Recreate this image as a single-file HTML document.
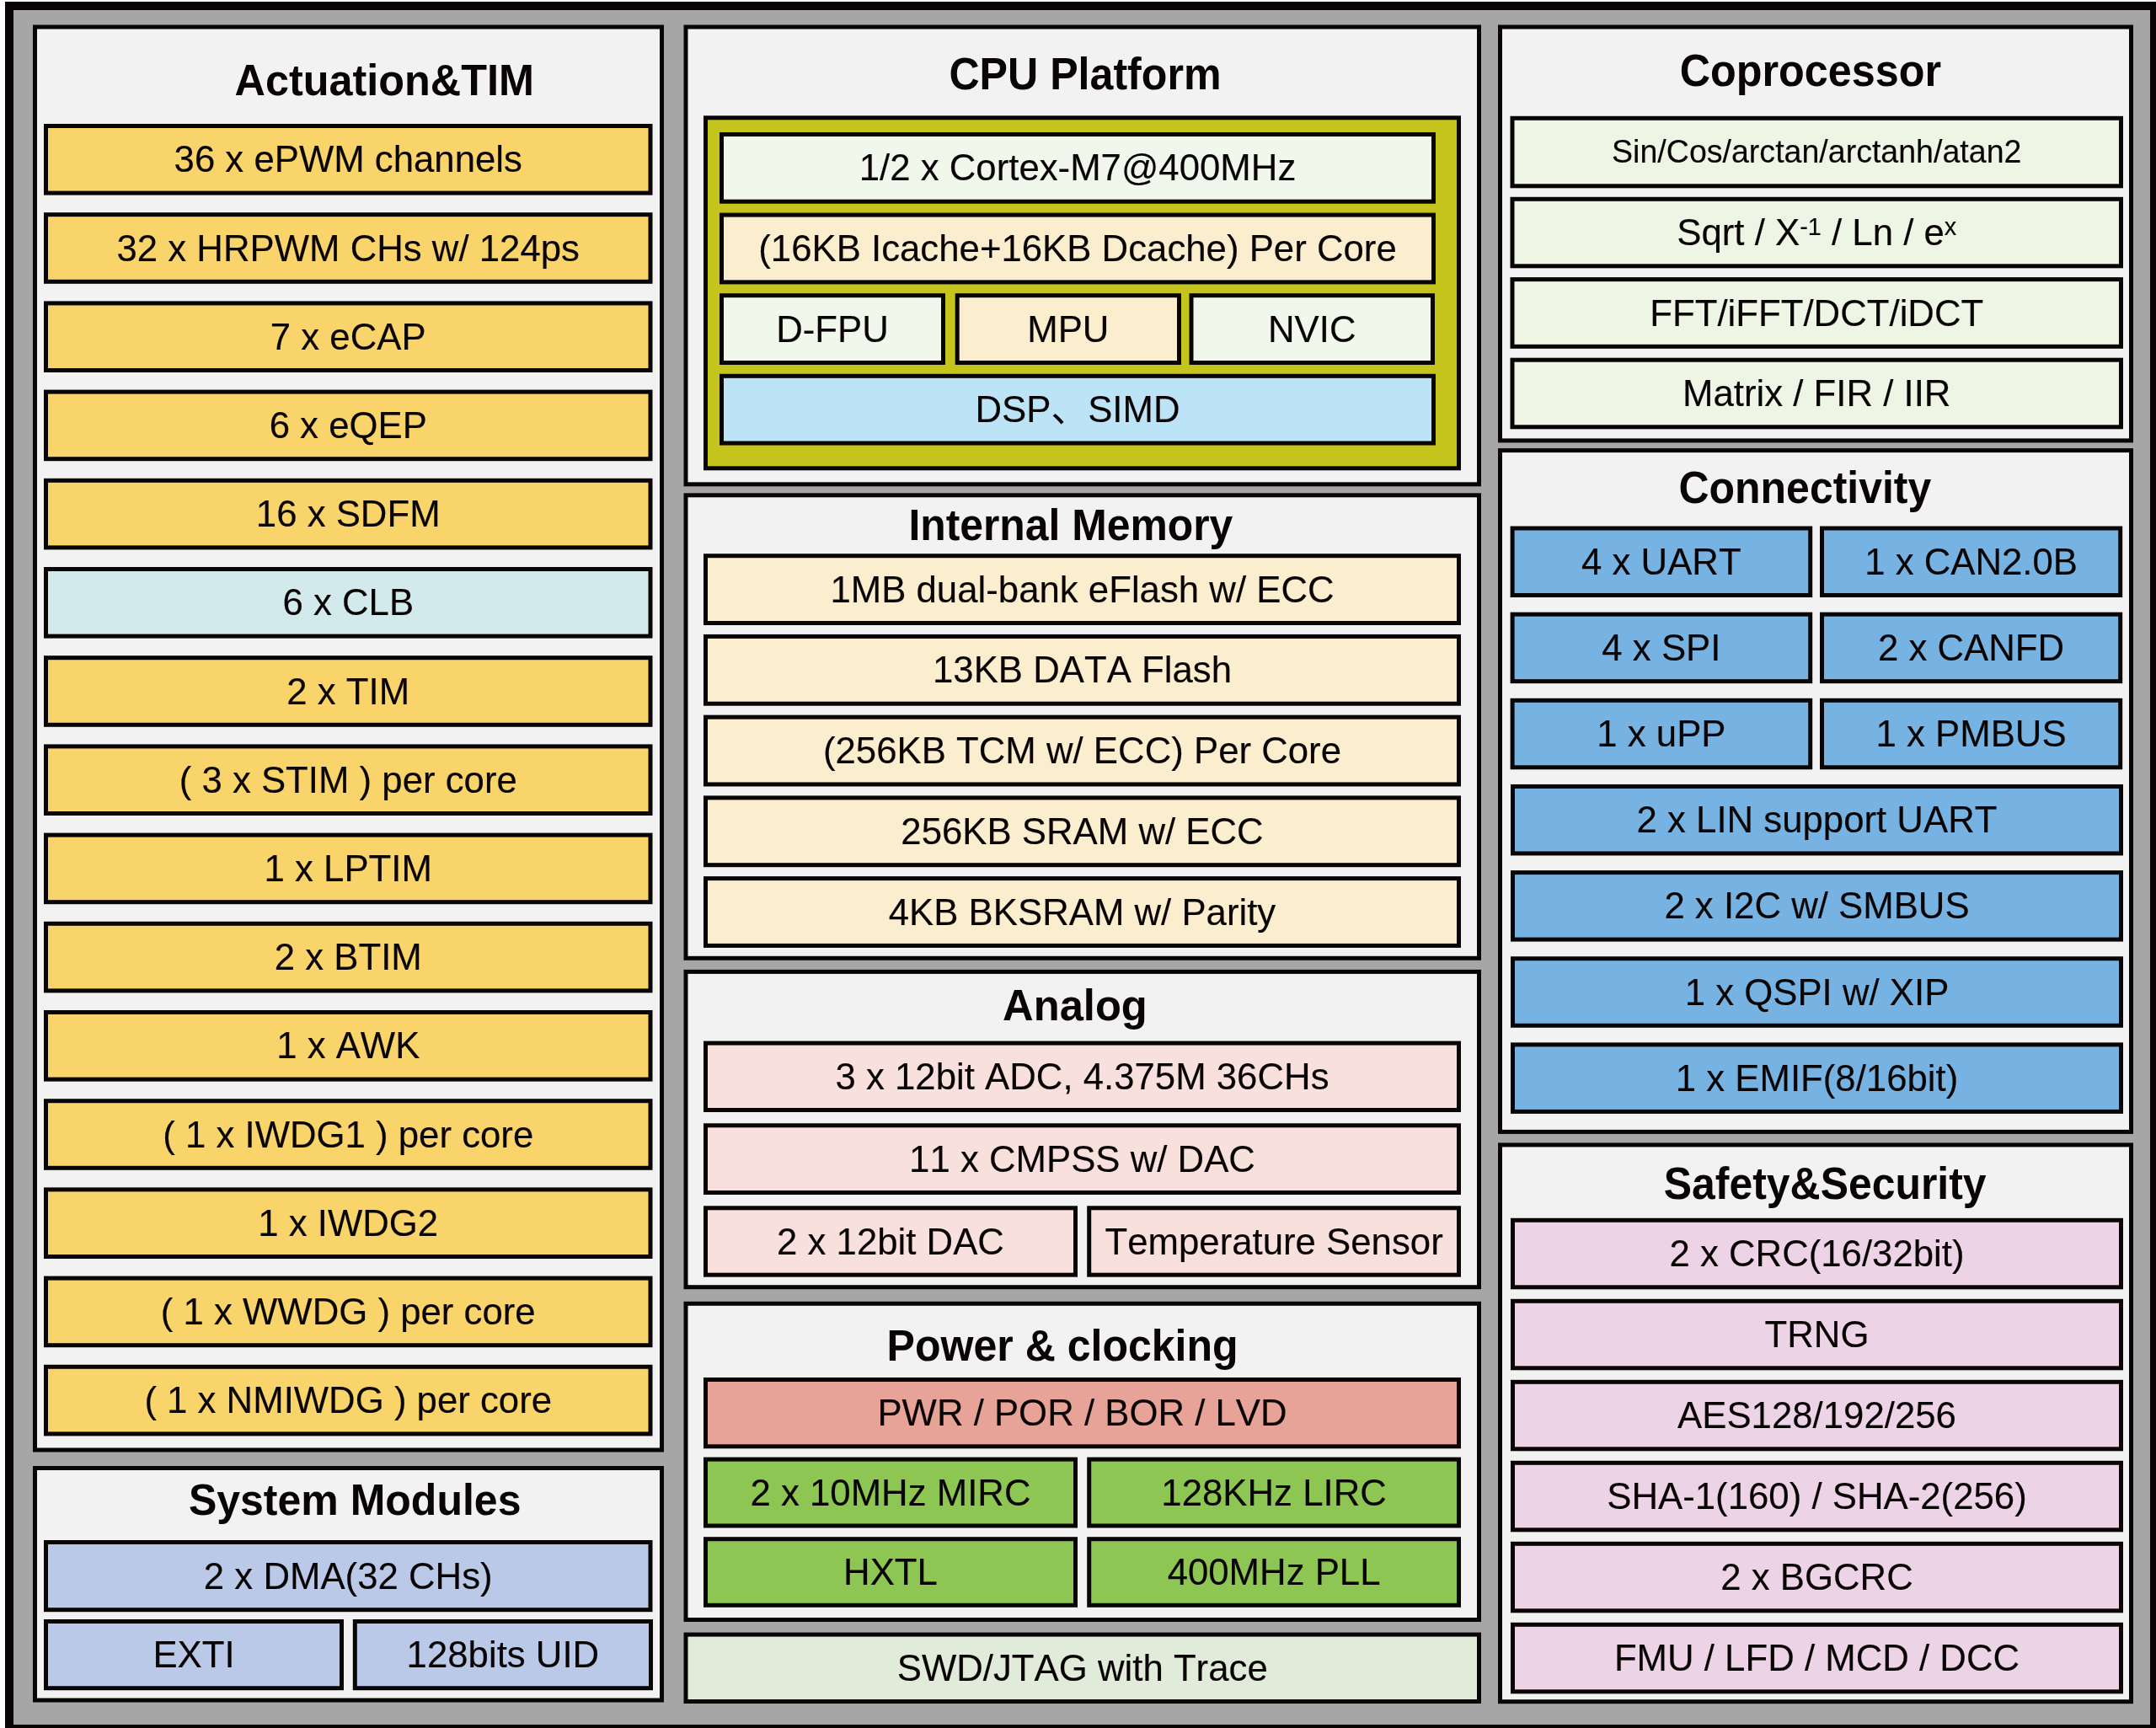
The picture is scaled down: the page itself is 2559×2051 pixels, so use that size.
<!DOCTYPE html>
<html lang="en"><head><meta charset="utf-8"><title>MCU Block Diagram</title>
<style>
html,body{margin:0;padding:0;background:#fff;}
body{width:2559px;height:2051px;position:relative;font-family:"Liberation Sans","Noto Sans CJK SC",sans-serif;color:#0a0505;font-kerning:none;}
#frame{position:absolute;left:6px;top:2px;width:2553px;height:2049px;box-sizing:border-box;border:solid #0a0505;border-width:10px 7px 4px 10px;background:#a6a6a6;}
svg{position:absolute;left:0;top:0;display:block;overflow:hidden;}
#txt{position:absolute;left:0;top:0;width:2559px;height:2051px;overflow:hidden;will-change:transform;}
svg rect{stroke:#0a0505;stroke-width:5px;}
.b{position:absolute;display:flex;align-items:center;justify-content:center;font-size:43.75px;white-space:nowrap;line-height:1;-webkit-text-stroke:0.15px #0a0505;}
.t{position:absolute;font-weight:bold;font-size:50.2px;line-height:60px;white-space:nowrap;}
.b>span{display:inline-block;position:relative;top:0px;transform:scaleY(1.02);}
sup{font-size:0.66em;vertical-align:baseline;position:relative;top:-0.42em;line-height:0;}
</style></head><body>
<div id="frame"></div>
<svg width="2559" height="2051" viewBox="0 0 2559 2051">
<rect x="41.50" y="32.00" width="744.00" height="1689.00" fill="#f2f2f2"/>
<rect x="41.50" y="1742.50" width="744.00" height="275.50" fill="#f2f2f2"/>
<rect x="814.00" y="32.00" width="941.50" height="542.80" fill="#f2f2f2"/>
<rect x="814.00" y="587.80" width="941.50" height="549.50" fill="#f2f2f2"/>
<rect x="814.00" y="1153.40" width="941.50" height="374.30" fill="#f2f2f2"/>
<rect x="814.00" y="1547.30" width="941.50" height="375.20" fill="#f2f2f2"/>
<rect x="814.00" y="1940.10" width="941.50" height="79.40" fill="#e0ecd9"/>
<rect x="1780.50" y="32.00" width="749.00" height="490.90" fill="#f2f2f2"/>
<rect x="1780.50" y="534.60" width="749.00" height="808.80" fill="#f2f2f2"/>
<rect x="1780.50" y="1358.90" width="749.00" height="660.80" fill="#f2f2f2"/>
<rect x="54.50" y="149.50" width="717.50" height="79.60" fill="#f8d46b"/>
<rect x="54.50" y="254.70" width="717.50" height="79.60" fill="#f8d46b"/>
<rect x="54.50" y="359.90" width="717.50" height="79.60" fill="#f8d46b"/>
<rect x="54.50" y="465.10" width="717.50" height="79.60" fill="#f8d46b"/>
<rect x="54.50" y="570.30" width="717.50" height="79.60" fill="#f8d46b"/>
<rect x="54.50" y="675.50" width="717.50" height="79.60" fill="#d3eaec"/>
<rect x="54.50" y="780.70" width="717.50" height="79.60" fill="#f8d46b"/>
<rect x="54.50" y="885.90" width="717.50" height="79.60" fill="#f8d46b"/>
<rect x="54.50" y="991.10" width="717.50" height="79.60" fill="#f8d46b"/>
<rect x="54.50" y="1096.30" width="717.50" height="79.60" fill="#f8d46b"/>
<rect x="54.50" y="1201.50" width="717.50" height="79.60" fill="#f8d46b"/>
<rect x="54.50" y="1306.70" width="717.50" height="79.60" fill="#f8d46b"/>
<rect x="54.50" y="1411.90" width="717.50" height="79.60" fill="#f8d46b"/>
<rect x="54.50" y="1517.10" width="717.50" height="79.60" fill="#f8d46b"/>
<rect x="54.50" y="1622.30" width="717.50" height="79.60" fill="#f8d46b"/>
<rect x="54.50" y="1830.50" width="717.50" height="80.20" fill="#bbc9e8"/>
<rect x="54.50" y="1924.50" width="351.00" height="79.20" fill="#bbc9e8"/>
<rect x="421.30" y="1924.50" width="351.20" height="79.20" fill="#bbc9e8"/>
<rect x="837.50" y="139.80" width="894.00" height="416.00" fill="#c5c41d"/>
<rect x="856.50" y="159.50" width="845.00" height="79.70" fill="#f2f7eb"/>
<rect x="856.50" y="255.10" width="845.00" height="79.80" fill="#faeece"/>
<rect x="856.50" y="350.70" width="263.00" height="79.80" fill="#f2f7eb"/>
<rect x="1136.20" y="350.70" width="263.30" height="79.80" fill="#faeece"/>
<rect x="1414.00" y="350.70" width="286.50" height="79.80" fill="#f2f7eb"/>
<rect x="856.50" y="446.30" width="845.00" height="79.70" fill="#bde3f7"/>
<rect x="837.50" y="659.70" width="894.00" height="79.80" fill="#faeece"/>
<rect x="837.50" y="755.43" width="894.00" height="79.80" fill="#faeece"/>
<rect x="837.50" y="851.16" width="894.00" height="79.80" fill="#faeece"/>
<rect x="837.50" y="946.89" width="894.00" height="79.80" fill="#faeece"/>
<rect x="837.50" y="1042.62" width="894.00" height="79.80" fill="#faeece"/>
<rect x="837.50" y="1238.10" width="894.00" height="79.40" fill="#f8e0dc"/>
<rect x="837.50" y="1335.80" width="894.00" height="79.70" fill="#f8e0dc"/>
<rect x="837.50" y="1433.80" width="439.00" height="79.40" fill="#f8e0dc"/>
<rect x="1292.70" y="1433.80" width="438.80" height="79.40" fill="#f8e0dc"/>
<rect x="837.50" y="1637.50" width="894.00" height="79.30" fill="#e8a398"/>
<rect x="837.50" y="1732.10" width="439.00" height="78.90" fill="#8dc653"/>
<rect x="1292.70" y="1732.10" width="438.80" height="78.90" fill="#8dc653"/>
<rect x="837.50" y="1826.70" width="439.00" height="78.60" fill="#8dc653"/>
<rect x="1292.70" y="1826.70" width="438.80" height="78.60" fill="#8dc653"/>
<rect x="1795.00" y="140.30" width="722.50" height="80.50" fill="#eef5e4"/>
<rect x="1795.00" y="236.30" width="722.50" height="79.50" fill="#eef5e4"/>
<rect x="1795.00" y="331.60" width="722.50" height="79.70" fill="#eef5e4"/>
<rect x="1795.00" y="427.20" width="722.50" height="79.60" fill="#eef5e4"/>
<rect x="1795.10" y="627.00" width="353.60" height="79.50" fill="#77b3e2"/>
<rect x="2162.50" y="627.00" width="354.20" height="79.50" fill="#77b3e2"/>
<rect x="1795.10" y="729.15" width="353.60" height="79.50" fill="#77b3e2"/>
<rect x="2162.50" y="729.15" width="354.20" height="79.50" fill="#77b3e2"/>
<rect x="1795.10" y="831.30" width="353.60" height="79.50" fill="#77b3e2"/>
<rect x="2162.50" y="831.30" width="354.20" height="79.50" fill="#77b3e2"/>
<rect x="1795.50" y="933.45" width="722.00" height="79.50" fill="#77b3e2"/>
<rect x="1795.50" y="1035.60" width="722.00" height="79.50" fill="#77b3e2"/>
<rect x="1795.50" y="1137.75" width="722.00" height="79.50" fill="#77b3e2"/>
<rect x="1795.50" y="1239.90" width="722.00" height="79.50" fill="#77b3e2"/>
<rect x="1795.50" y="1448.30" width="722.00" height="79.50" fill="#ecd4e6"/>
<rect x="1795.50" y="1544.30" width="722.00" height="79.50" fill="#ecd4e6"/>
<rect x="1795.50" y="1640.30" width="722.00" height="79.50" fill="#ecd4e6"/>
<rect x="1795.50" y="1736.30" width="722.00" height="79.50" fill="#ecd4e6"/>
<rect x="1795.50" y="1832.30" width="722.00" height="79.50" fill="#ecd4e6"/>
<rect x="1795.50" y="1928.30" width="722.00" height="79.50" fill="#ecd4e6"/>
</svg>
<div id="txt">
<div class="b" style="left:811.5px;top:1937.6px;width:946.5px;height:84.4px;"><span>SWD/JTAG with Trace</span></div>
<div class="b" style="left:52.0px;top:147.0px;width:722.5px;height:84.6px;"><span>36 x ePWM channels</span></div>
<div class="b" style="left:52.0px;top:252.2px;width:722.5px;height:84.6px;"><span>32 x HRPWM CHs w/ 124ps</span></div>
<div class="b" style="left:52.0px;top:357.4px;width:722.5px;height:84.6px;"><span>7 x eCAP</span></div>
<div class="b" style="left:52.0px;top:462.6px;width:722.5px;height:84.6px;"><span>6 x eQEP</span></div>
<div class="b" style="left:52.0px;top:567.8px;width:722.5px;height:84.6px;"><span>16 x SDFM</span></div>
<div class="b" style="left:52.0px;top:673.0px;width:722.5px;height:84.6px;"><span>6 x CLB</span></div>
<div class="b" style="left:52.0px;top:778.2px;width:722.5px;height:84.6px;"><span>2 x TIM</span></div>
<div class="b" style="left:52.0px;top:883.4px;width:722.5px;height:84.6px;"><span>( 3 x STIM ) per core</span></div>
<div class="b" style="left:52.0px;top:988.6px;width:722.5px;height:84.6px;"><span>1 x LPTIM</span></div>
<div class="b" style="left:52.0px;top:1093.8px;width:722.5px;height:84.6px;"><span>2 x BTIM</span></div>
<div class="b" style="left:52.0px;top:1199.0px;width:722.5px;height:84.6px;"><span>1 x AWK</span></div>
<div class="b" style="left:52.0px;top:1304.2px;width:722.5px;height:84.6px;"><span>( 1 x IWDG1 ) per core</span></div>
<div class="b" style="left:52.0px;top:1409.4px;width:722.5px;height:84.6px;"><span>1 x IWDG2</span></div>
<div class="b" style="left:52.0px;top:1514.6px;width:722.5px;height:84.6px;"><span>( 1 x WWDG ) per core</span></div>
<div class="b" style="left:52.0px;top:1619.8px;width:722.5px;height:84.6px;"><span>( 1 x NMIWDG ) per core</span></div>
<div class="b" style="left:52.0px;top:1828.0px;width:722.5px;height:85.2px;"><span>2 x DMA(32 CHs)</span></div>
<div class="b" style="left:52.0px;top:1922.0px;width:356.0px;height:84.2px;"><span>EXTI</span></div>
<div class="b" style="left:418.8px;top:1922.0px;width:356.2px;height:84.2px;"><span>128bits UID</span></div>
<div class="b" style="left:854.0px;top:157.0px;width:850.0px;height:84.7px;"><span>1/2 x Cortex-M7@400MHz</span></div>
<div class="b" style="left:854.0px;top:252.6px;width:850.0px;height:84.8px;"><span>(16KB Icache+16KB Dcache) Per Core</span></div>
<div class="b" style="left:854.0px;top:348.2px;width:268.0px;height:84.8px;"><span>D-FPU</span></div>
<div class="b" style="left:1133.7px;top:348.2px;width:268.3px;height:84.8px;"><span>MPU</span></div>
<div class="b" style="left:1411.5px;top:348.2px;width:291.5px;height:84.8px;"><span>NVIC</span></div>
<div class="b" style="left:854.0px;top:443.8px;width:850.0px;height:84.7px;"><span>DSP、SIMD</span></div>
<div class="b" style="left:835.0px;top:657.2px;width:899.0px;height:84.8px;"><span>1MB dual-bank eFlash w/ ECC</span></div>
<div class="b" style="left:835.0px;top:752.9px;width:899.0px;height:84.8px;"><span>13KB DATA Flash</span></div>
<div class="b" style="left:835.0px;top:848.7px;width:899.0px;height:84.8px;"><span>(256KB TCM w/ ECC) Per Core</span></div>
<div class="b" style="left:835.0px;top:944.4px;width:899.0px;height:84.8px;"><span>256KB SRAM w/ ECC</span></div>
<div class="b" style="left:835.0px;top:1040.1px;width:899.0px;height:84.8px;"><span>4KB BKSRAM w/ Parity</span></div>
<div class="b" style="left:835.0px;top:1235.6px;width:899.0px;height:84.4px;"><span>3 x 12bit ADC, 4.375M 36CHs</span></div>
<div class="b" style="left:835.0px;top:1333.3px;width:899.0px;height:84.7px;"><span>11 x CMPSS w/ DAC</span></div>
<div class="b" style="left:835.0px;top:1431.3px;width:444.0px;height:84.4px;"><span>2 x 12bit DAC</span></div>
<div class="b" style="left:1290.2px;top:1431.3px;width:443.8px;height:84.4px;"><span>Temperature Sensor</span></div>
<div class="b" style="left:835.0px;top:1635.0px;width:899.0px;height:84.3px;"><span>PWR / POR / BOR / LVD</span></div>
<div class="b" style="left:835.0px;top:1729.6px;width:444.0px;height:83.9px;"><span>2 x 10MHz MIRC</span></div>
<div class="b" style="left:1290.2px;top:1729.6px;width:443.8px;height:83.9px;"><span>128KHz LIRC</span></div>
<div class="b" style="left:835.0px;top:1824.2px;width:444.0px;height:83.6px;"><span>HXTL</span></div>
<div class="b" style="left:1290.2px;top:1824.2px;width:443.8px;height:83.6px;"><span>400MHz PLL</span></div>
<div class="b" style="left:1792.5px;top:137.8px;width:727.5px;height:85.5px;font-size:37.55px;"><span>Sin/Cos/arctan/arctanh/atan2</span></div>
<div class="b" style="left:1792.5px;top:233.8px;width:727.5px;height:84.5px;"><span>Sqrt / X<sup>-1</sup> / Ln / e<sup>x</sup></span></div>
<div class="b" style="left:1792.5px;top:329.1px;width:727.5px;height:84.7px;"><span>FFT/iFFT/DCT/iDCT</span></div>
<div class="b" style="left:1792.5px;top:424.7px;width:727.5px;height:84.6px;"><span>Matrix / FIR / IIR</span></div>
<div class="b" style="left:1792.6px;top:624.5px;width:358.6px;height:84.5px;"><span>4 x UART</span></div>
<div class="b" style="left:2160.0px;top:624.5px;width:359.2px;height:84.5px;"><span>1 x CAN2.0B</span></div>
<div class="b" style="left:1792.6px;top:726.6px;width:358.6px;height:84.5px;"><span>4 x SPI</span></div>
<div class="b" style="left:2160.0px;top:726.6px;width:359.2px;height:84.5px;"><span>2 x CANFD</span></div>
<div class="b" style="left:1792.6px;top:828.8px;width:358.6px;height:84.5px;"><span>1 x uPP</span></div>
<div class="b" style="left:2160.0px;top:828.8px;width:359.2px;height:84.5px;"><span>1 x PMBUS</span></div>
<div class="b" style="left:1793.0px;top:931.0px;width:727.0px;height:84.5px;"><span>2 x LIN support UART</span></div>
<div class="b" style="left:1793.0px;top:1033.1px;width:727.0px;height:84.5px;"><span>2 x I2C w/ SMBUS</span></div>
<div class="b" style="left:1793.0px;top:1135.2px;width:727.0px;height:84.5px;"><span>1 x QSPI w/ XIP</span></div>
<div class="b" style="left:1793.0px;top:1237.4px;width:727.0px;height:84.5px;"><span>1 x EMIF(8/16bit)</span></div>
<div class="b" style="left:1793.0px;top:1445.8px;width:727.0px;height:84.5px;"><span>2 x CRC(16/32bit)</span></div>
<div class="b" style="left:1793.0px;top:1541.8px;width:727.0px;height:84.5px;"><span>TRNG</span></div>
<div class="b" style="left:1793.0px;top:1637.8px;width:727.0px;height:84.5px;"><span>AES128/192/256</span></div>
<div class="b" style="left:1793.0px;top:1733.8px;width:727.0px;height:84.5px;"><span>SHA-1(160) / SHA-2(256)</span></div>
<div class="b" style="left:1793.0px;top:1829.8px;width:727.0px;height:84.5px;"><span>2 x BGCRC</span></div>
<div class="b" style="left:1793.0px;top:1925.8px;width:727.0px;height:84.5px;"><span>FMU / LFD / MCD / DCC</span></div>
<div class="t" style="left:278.6px;top:66.3px;font-size:50.38px;transform-origin:0 47.5px;transform:scaleY(1.03);">Actuation&amp;TIM</div>
<div class="t" style="left:223.9px;top:1750.6px;font-size:50.00px;transform-origin:0 47.3px;transform:scaleY(1.052);">System Modules</div>
<div class="t" style="left:1126.4px;top:58.9px;font-size:50.14px;transform-origin:0 47.4px;transform:scaleY(1.06);">CPU Platform</div>
<div class="t" style="left:1078.4px;top:594.3px;font-size:49.84px;transform-origin:0 47.3px;transform:scaleY(1.055);">Internal Memory</div>
<div class="t" style="left:1190.1px;top:1164.2px;font-size:50.68px;transform-origin:0 47.6px;transform:scaleY(1.03);">Analog</div>
<div class="t" style="left:1052.6px;top:1568.3px;font-size:50.04px;transform-origin:0 47.3px;transform:scaleY(1.03);">Power &amp; clocking</div>
<div class="t" style="left:1993.7px;top:55.3px;font-size:50.34px;transform-origin:0 47.4px;transform:scaleY(1.06);">Coprocessor</div>
<div class="t" style="left:1992.5px;top:549.9px;font-size:49.96px;transform-origin:0 47.3px;transform:scaleY(1.06);">Connectivity</div>
<div class="t" style="left:1974.8px;top:1375.5px;font-size:49.91px;transform-origin:0 47.3px;transform:scaleY(1.06);">Safety&amp;Security</div>
</div>
</body></html>
